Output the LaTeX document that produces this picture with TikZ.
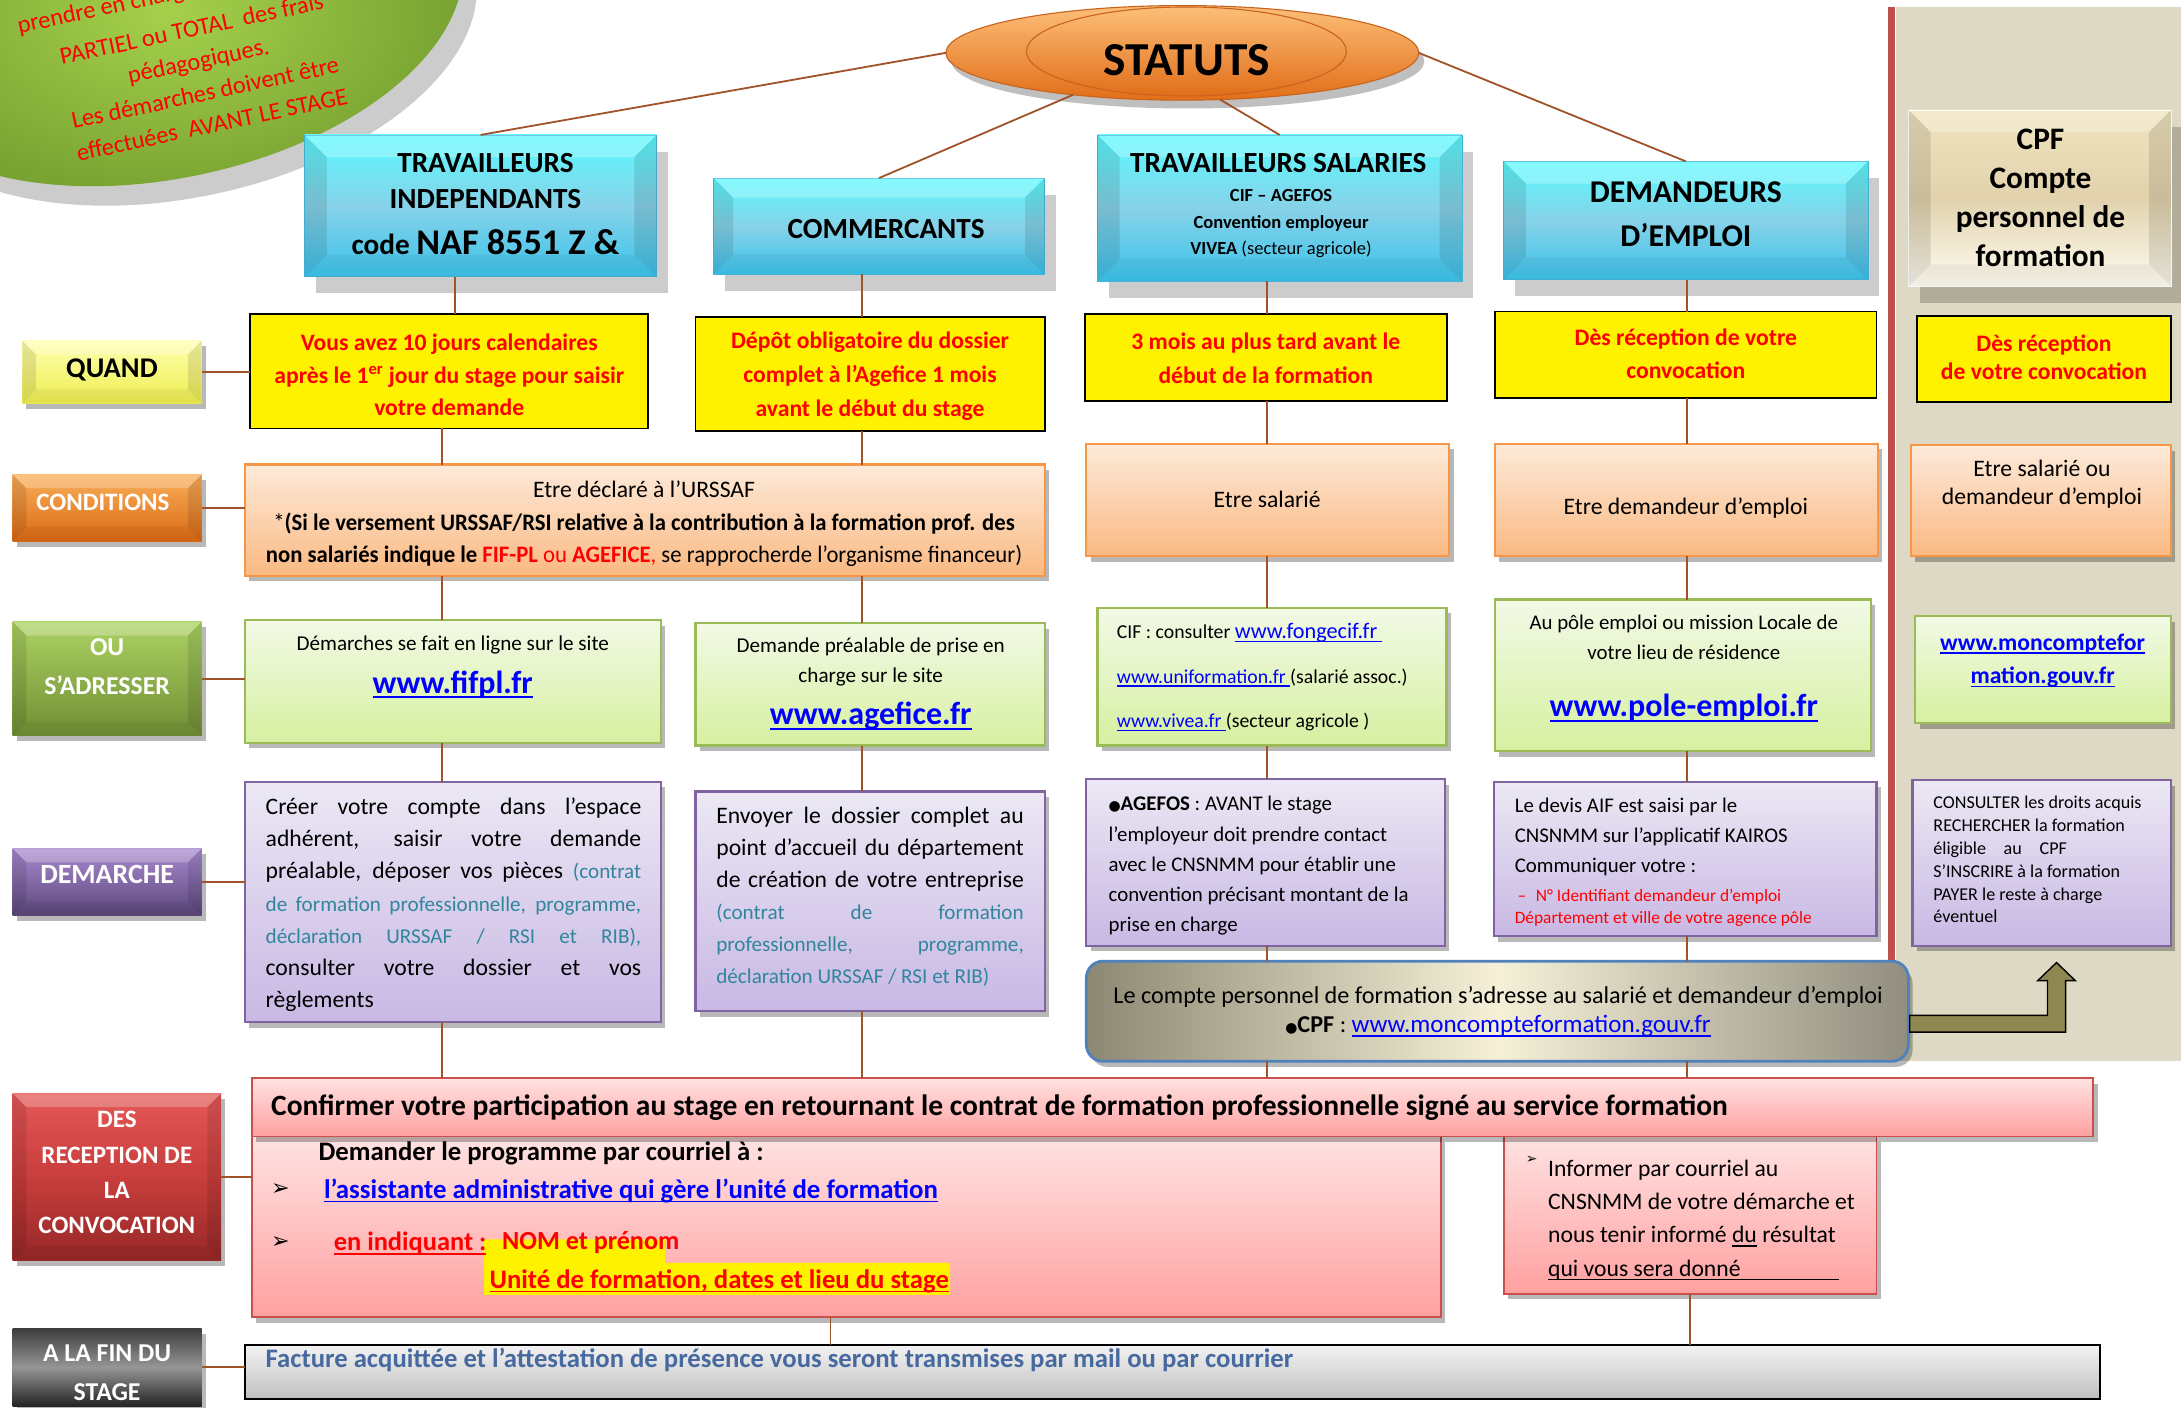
\documentclass[tikz,border=0pt]{standalone}
\usepackage{fontspec}
\setmainfont{Carlito}
\newfontfamily\narrowfont{Carlito}[FakeStretch=0.96]
\newfontfamily\djv{DejaVu Sans}
\usetikzlibrary{shadows,shapes.geometric,calc}
\definecolor{linec}{RGB}{160,82,40}
\definecolor{cyT}{RGB}{90,250,255}
\definecolor{cyM}{RGB}{135,210,232}
\definecolor{cyB}{RGB}{60,195,235}
\definecolor{cyD}{RGB}{70,180,215}
\definecolor{crT}{RGB}{240,228,190}
\definecolor{crM}{RGB}{225,210,172}
\definecolor{crB}{RGB}{255,252,242}
\definecolor{pcT}{RGB}{253,234,218}
\definecolor{pcB}{RGB}{250,185,130}
\definecolor{pcD}{RGB}{247,150,70}
\definecolor{gnT}{RGB}{242,249,230}
\definecolor{gnB}{RGB}{214,240,160}
\definecolor{gnD}{RGB}{155,187,89}
\definecolor{lvT}{RGB}{236,232,244}
\definecolor{lvB}{RGB}{200,184,228}
\definecolor{lvD}{RGB}{128,100,162}
\definecolor{pkT}{RGB}{255,226,226}
\definecolor{pkB}{RGB}{255,160,160}
\definecolor{pkD}{RGB}{200,80,77}
\definecolor{gyT}{RGB}{242,242,242}
\definecolor{gyB}{RGB}{192,192,192}
\definecolor{beige}{RGB}{221,217,196}
\definecolor{redl}{RGB}{192,80,77}
\definecolor{blIn}{RGB}{165,208,75}
\definecolor{blOut}{RGB}{118,160,48}
\definecolor{orT}{RGB}{252,190,120}
\definecolor{orB}{RGB}{225,110,25}
\definecolor{orD}{RGB}{200,100,30}
\definecolor{linkb}{RGB}{0,0,255}
\definecolor{teal2}{RGB}{49,133,156}
\definecolor{factc}{RGB}{70,105,160}
\definecolor{cbL}{RGB}{140,136,115}
\definecolor{cbM}{RGB}{245,240,215}
\definecolor{cbR}{RGB}{145,142,128}
\definecolor{cbD}{RGB}{79,129,189}
\definecolor{arrf}{RGB}{143,135,80}
\definecolor{qT}{RGB}{255,255,175}
\definecolor{qB}{RGB}{238,238,80}
\definecolor{cT}{RGB}{250,175,90}
\definecolor{cB}{RGB}{218,105,20}
\definecolor{oT}{RGB}{172,210,98}
\definecolor{oB}{RGB}{112,142,52}
\definecolor{dT}{RGB}{168,138,208}
\definecolor{dB}{RGB}{92,70,122}
\definecolor{rT}{RGB}{228,88,88}
\definecolor{rM}{RGB}{200,62,60}
\definecolor{rB}{RGB}{150,40,40}
\definecolor{fT}{RGB}{60,60,60}
\definecolor{fM}{RGB}{150,150,150}
\definecolor{fB}{RGB}{35,35,35}
\newcommand\fs[2]{\fontsize{#1}{#2}\selectfont}
\newsavebox\ulbox
\newcommand\ulk[1]{\sbox\ulbox{#1}\leavevmode\rlap{\rule[-0.16em]{\wd\ulbox}{0.065em}}\usebox\ulbox}
\newcommand\bx[6]{\node[#6,anchor=north west,minimum width={(#4)-(#2)},minimum height={(#5)-(#3)},inner sep=0pt,outer sep=0pt] (#1) at (#2,#3) {};}
\newcommand\bevel[2]{%
 \fill[white,opacity=.25] (#1.north west) -- (#1.north east) -- ($(#1.north east)+(-#2,#2)$) -- ($(#1.north west)+(#2,#2)$) -- cycle;
 \fill[black,opacity=.10] (#1.north west) -- ($(#1.north west)+(#2,#2)$) -- ($(#1.south west)+(#2,-#2)$) -- (#1.south west) -- cycle;
 \fill[black,opacity=.10] (#1.north east) -- ($(#1.north east)+(-#2,#2)$) -- ($(#1.south east)+(-#2,-#2)$) -- (#1.south east) -- cycle;
 \fill[black,opacity=.05] (#1.south west) -- ($(#1.south west)+(#2,-#2)$) -- ($(#1.south east)+(-#2,-#2)$) -- (#1.south east) -- cycle;}
\begin{document}
\begin{tikzpicture}[x=1pt,y=-1pt,
 every node/.style={inner sep=0pt,outer sep=0pt},
 conn/.style={draw=linec,line width=1.3pt},
 shd/.style={drop shadow={shadow xshift=3pt,shadow yshift=-4pt,opacity=.28,fill=black}},
 bigsh/.style={drop shadow={shadow xshift=8pt,shadow yshift=-12pt,opacity=.2,fill=black}},
 hdr/.style={rectangle,top color=cyT,bottom color=cyB,middle color=cyM,draw=cyD,line width=.5pt,bigsh},
 cpfhdr/.style={rectangle,top color=crT,bottom color=crB,middle color=crM,draw=white,line width=.5pt,bigsh},
 yel/.style={rectangle,fill=yellow,draw=black,line width=1.3pt},
 pch/.style={rectangle,top color=pcT,bottom color=pcB,draw=pcD,line width=1.6pt,shd},
 grn/.style={rectangle,top color=gnT,bottom color=gnB,draw=gnD,line width=1.6pt,shd},
 lav/.style={rectangle,top color=lvT,bottom color=lvB,draw=lvD,line width=1.6pt,shd},
 pnk/.style={rectangle,top color=pkT,bottom color=pkB,draw=pkD,line width=1.3pt,shd},
 gry/.style={rectangle,top color=gyT,bottom color=gyB,draw=black,line width=1.6pt},
 cbar/.style={rectangle,rounded corners=12pt,left color=cbL,right color=cbR,middle color=cbM,draw=cbD,line width=2pt,shd},
 lblq/.style={rectangle,top color=qT,bottom color=qB,shd},
 lblc/.style={rectangle,top color=cT,bottom color=cB,shd},
 lblo/.style={rectangle,top color=oT,bottom color=oB,shd},
 lbld/.style={rectangle,top color=dT,bottom color=dB,shd},
 lblr/.style={rectangle,top color=rT,bottom color=rB,middle color=rM,shd},
 lblf/.style={rectangle,top color=fT,bottom color=fB,middle color=fM,shd},
 hdrt/.style={align=center,font=\bfseries\fs{21}{26}},
 ytxt/.style={align=center,text=red,font=\bfseries\fs{17}{24}},
 lblt/.style={align=center,text=white,font=\bfseries\fs{18.5}{28}}]
\useasboundingbox (0,0) rectangle (1568,1012);
\clip (0,0) rectangle (1568,1012);

% CPF panel
\fill[beige] (1363,5) rectangle (1568,763);
\draw[redl,line width=5pt] (1360,5) -- (1360,760);

% green blob
\node[ellipse,minimum width=432,minimum height=236,rotate=12,fill=black,opacity=.2] (blobsh) at (130,24) {};
\node[ellipse,minimum width=432,minimum height=236,rotate=12,inner color=blIn,outer color=blOut] (blob) at (120,10) {};
\node[rotate=12,anchor=base west,text=red,font=\fs{17.5}{23.5}] (blobt1) at (14,24) {prendre en charge le};
\node[rotate=12,align=center,text=red,font=\fs{17.5}{23.5}] (blobt2) at (145,55) {PARTIEL ou TOTAL\ \ des frais\\pédagogiques.\\Les démarches doivent être\\effectuées\ \ AVANT LE STAGE};

% STATUTS
\node[ellipse,minimum width=340,minimum height=68,top color=orT,bottom color=orB,draw=orD,line width=.8pt,drop shadow={shadow xshift=4pt,shadow yshift=-6pt,opacity=.25,fill=black}] (stat) at (850,38) {};
\node[ellipse,minimum width=230,minimum height=64,top color=orT,bottom color=orB,draw=orD,line width=.8pt] (stat2) at (853,37) {};
\node[font=\bfseries\fs{34}{34}] (statt) at (853,43) {STATUTS};

% headers
\bx{tih}{219}{97}{472}{199}{hdr}\bevel{tih}{16}
\node[hdrt] (tiht) at (349,130) {TRAVAILLEURS\\INDEPENDANTS};
\node[font=\bfseries] (tiht2) at (349,174) {\fs{21}{26}code \fs{26}{30}NAF 8551 Z \&};
\bx{comh}{513}{128}{751}{197}{hdr}\bevel{comh}{14}
\node[hdrt] (comht) at (637,165) {COMMERCANTS};
\bx{tsh}{789}{97}{1051}{202}{hdr}\bevel{tsh}{16}
\node[hdrt] (tsht) at (919,117) {TRAVAILLEURS SALARIES};
\node[align=center,font=\fs{13.3}{19}] (tsht2) at (921,161) {\textbf{CIF – AGEFOS}\\\textbf{Convention employeur}\\\textbf{VIVEA} (secteur agricole)};
\bx{deh}{1081}{116}{1343}{201}{hdr}\bevel{deh}{16}
\node[align=center,font=\bfseries\fs{22.8}{32}] (deht) at (1212,154) {DEMANDEURS\\D’EMPLOI};
\bx{cpfh}{1372}{79}{1561}{206}{cpfhdr}\bevel{cpfh}{16}
\node[align=center,font=\bfseries\fs{22.5}{28}] (cpfht) at (1467,142) {CPF\\Compte\\personnel de\\formation};

% row labels
\bx{quand}{16}{245}{145}{290}{lblq}\bevel{quand}{10}
\node[font=\bfseries\fs{20.5}{24}] (quandt) at (80.5,266) {QUAND};
\bx{condl}{9}{341}{145}{389}{lblc}\bevel{condl}{10}
\node[lblt,font=\bfseries\fs{18}{22}] (condlt) at (74,361) {CONDITIONS};
\bx{oul}{9}{447}{145}{529}{lblo}\bevel{oul}{10}
\node[lblt] (oult) at (77,479) {OU\\S’ADRESSER};
\bx{deml}{9}{610}{145}{658}{lbld}\bevel{deml}{10}
\node[lblt,font=\bfseries\fs{20}{24}] (demlt) at (77,629) {DEMARCHE};
\bx{recl}{9}{786}{159}{906}{lblr}\bevel{recl}{10}
\node[lblt,font=\bfseries\fs{18}{25.3}] (reclt) at (84,843) {DES\\RECEPTION DE\\LA\\CONVOCATION};
\bx{finl}{9}{955}{145}{1011}{lblf}
\node[lblt] (finlt) at (77,987) {A LA FIN DU\\STAGE};

% QUAND row
\bx{tiq}{180}{226}{466}{308}{yel}
\node[ytxt,font=\bfseries\fs{17}{23.5}] (tiqt) at (323,269.5) {Vous avez 10 jours calendaires\\après le 1\textsuperscript{er} jour du stage pour saisir\\votre demande};
\bx{comq}{500}{228}{751}{310}{yel}
\node[ytxt,font=\bfseries\fs{17}{24.5}] (comqt) at (625.5,270.5) {Dépôt obligatoire du dossier\\complet à l’Agefice 1 mois\\avant le début du stage};
\bx{tsq}{780}{226}{1040}{288}{yel}
\node[ytxt] (tsqt) at (910,257.5) {3 mois au plus tard avant le\\début de la formation};
\bx{deq}{1075}{224}{1349}{286}{yel}
\node[ytxt] (deqt) at (1212,254.5) {Dès réception de votre\\convocation};
\bx{cpfq}{1378}{227}{1561}{289}{yel}
\node[ytxt,font=\bfseries\fs{17}{20.5}] (cpfqt) at (1469.5,257) {Dès réception\\de votre convocation};

% CONDITIONS row
\bx{cond}{176}{334}{751}{414}{pch}
\node[align=center,font=\fs{17}{23.5}] (condt) at (463,376.5) {Etre déclaré à l’URSSAF\\{\narrowfont *\bfseries(Si le versement URSSAF/RSI relative à la contribution à la formation prof. des}\\{\narrowfont\textbf{non salariés indique le }\textcolor{red}{\textbf{FIF-PL} ou \textbf{AGEFICE},} se rapprocherde l’organisme financeur)}};
\bx{tscond}{781}{319}{1042}{400}{pch}
\node[font=\fs{17}{20}] (tscondt) at (911,359) {Etre salarié};
\bx{decond}{1075}{319}{1350}{400}{pch}
\node[font=\fs{17}{20}] (decondt) at (1212,365) {Etre demandeur d’emploi};
\bx{cpfcond}{1374}{320}{1561}{400}{pch}
\node[align=center,font=\fs{17}{20.5}] (cpfcondt) at (1468,348) {Etre salarié ou\\demandeur d’emploi};

% OU S'ADRESSER row
\bx{tiou}{176}{446}{475}{534}{grn}
\node[font=\fs{15.2}{20}] (tiout) at (325.5,464) {Démarches se fait en ligne sur le site};
\node[font=\bfseries\fs{23}{26},text=linkb] (tiouu) at (325.5,492) {\ulk{www.fifpl.fr}};
\bx{comou}{500}{448}{751}{536}{grn}
\node[align=center,font=\fs{15.2}{22}] (comout) at (626,476) {Demande préalable de prise en\\charge sur le site};
\node[font=\bfseries\fs{23}{26},text=linkb] (comouu) at (626,515) {\ulk{www.agefice.fr}};
\bx{tsou}{789}{437}{1040}{536}{grn}
\node[anchor=west,align=left,font=\fs{14.2}{32}] (tsout) at (803,487) {CIF : consulter {\color{linkb}\fs{16}{32}\ulk{www.fongecif.fr }}\\{\color{linkb}\ulk{www.uniformation.fr }}(salarié assoc.)\\{\color{linkb}\ulk{www.vivea.fr }}(secteur agricole )};
\bx{deou}{1075}{431}{1345}{540}{grn}
\node[align=center,font=\fs{15}{21.5}] (deout) at (1210.5,458.5) {Au pôle emploi ou mission Locale de\\votre lieu de résidence};
\node[font=\bfseries\fs{23}{26},text=linkb] (deouu) at (1210.5,509) {\ulk{www.pole-emploi.fr}};
\bx{cpfou}{1377}{443}{1561}{520}{grn}
\node[align=center,font=\bfseries\fs{17}{24},text=linkb] (cpfout) at (1468.5,475) {\ulk{www.moncomptefor}\\\ulk{mation.gouv.fr}};

% DEMARCHE row
\bx{tidem}{176}{562}{475}{735}{lav}
\node[align=left,font=\fs{17}{23.2}] (tidemt) at (326,650.5) {%
\makebox[270pt][s]{Créer votre compte dans l’espace}\\%
\makebox[270pt][s]{adhérent, saisir votre demande}\\%
\makebox[270pt][s]{préalable, déposer vos pièces {\color{teal2}\fs{15.2}{23.2}(contrat}}\\%
\makebox[270pt][s]{\color{teal2}\fs{15.2}{23.2}de formation professionnelle, programme,}\\%
\makebox[270pt][s]{\color{teal2}\fs{15.2}{23.2}déclaration URSSAF / RSI et RIB),}\\%
\makebox[270pt][s]{consulter votre dossier et vos}\\%
règlements};
\bx{comdem}{500}{569}{751}{727}{lav}
\node[align=left,font=\fs{17}{23}] (comdemt) at (625.5,645) {%
\makebox[221pt][s]{Envoyer le dossier complet au}\\%
\makebox[221pt][s]{point d’accueil du département}\\%
\makebox[221pt][s]{de création de votre entreprise}\\%
\makebox[221pt][s]{\color{teal2}\fs{15.2}{23}(contrat de formation}\\%
\makebox[221pt][s]{\color{teal2}\fs{15.2}{23}professionnelle, programme,}\\%
{\color{teal2}\fs{15.2}{23}déclaration URSSAF / RSI et RIB)}};
\bx{tsdem}{781}{560}{1039}{680}{lav}
\node[anchor=west,align=left,font=\fs{15}{21.75}] (tsdemt) at (797,622.5) {{\djv\fs{10}{21.75}●}\textbf{AGEFOS} : AVANT le stage\\l’employeur doit prendre contact\\avec le CNSNMM pour établir une\\convention précisant montant de la\\prise en charge};
\bx{dedem}{1074}{562}{1349}{673}{lav}
\node[anchor=west,align=left,font=\fs{15}{21.5}] (dedemt) at (1089,601.5) {Le devis AIF est saisi par le\\CNSNMM sur l’applicatif KAIROS\\Communiquer votre :};
\node[anchor=west,align=left,text=red,font=\fs{12.5}{15.5}] (dedemt2) at (1089,652.5) {\hspace{2pt}–\hspace{7pt}N° Identifiant demandeur d’emploi\\Département et ville de votre agence pôle};
\bx{cpfdem}{1375}{561}{1561}{680}{lav}
\node[anchor=west,align=left,font=\fs{13}{16.4}] (cpfdemt) at (1390,618) {CONSULTER les droits acquis\\RECHERCHER la formation\\\makebox[96pt][s]{éligible au CPF}\\S’INSCRIRE à la formation\\PAYER le reste à charge\\éventuel};

% CPF bar and arrow
\bx{cpfbar}{781}{691}{1372}{763}{cbar}
\node[align=center,font=\fs{17.4}{21}] (cpfbart) at (1077,727.5) {Le compte personnel de formation s’adresse au salarié et demandeur d’emploi\\{\djv\fs{10}{21}●}\textbf{CPF} : {\color{linkb}\fs{18}{21}\ulk{www.moncompteformation.gouv.fr}}};
\filldraw[fill=arrf,draw=black,line width=1pt] (1373,730) -- (1472,730) -- (1472,705) -- (1465,705) -- (1478.5,692) -- (1492,705) -- (1485,705) -- (1485,742) -- (1373,742) -- cycle;

% confirmation area
\bx{lpink}{181}{817}{1036}{947}{pnk}
\bx{rpink}{1081}{817}{1349}{930}{pnk}
\bx{conf}{181}{775}{1505}{817}{pnk}
\node[anchor=west,font=\bfseries\fs{21.2}{24}] (conft) at (195,796) {Confirmer votre participation au stage en retournant le contrat de formation professionnelle signé au service formation};
\node[anchor=west,font=\bfseries\fs{19.2}{22}] (lpt1) at (229,829) {Demander le programme par courriel à :};
\node[anchor=west,font=\djv\fs{16}{18}] (lpa1) at (195,855) {➢};
\node[anchor=west,font=\bfseries\fs{19.3}{22},text=linkb] (lpt2) at (233,856) {\ulk{l’assistante administrative qui gère l’unité de formation}};
\fill[yellow] (348,891) -- (478,891) -- (478,908) -- (683,908) -- (683,931) -- (348,931) -- cycle;
\node[anchor=west,font=\djv\fs{16}{18}] (lpa2) at (195,893) {➢};
\node[anchor=west,font=\bfseries\fs{19}{22},text=red] (lpt3) at (240,894) {\ulk{en indiquant :}};
\node[anchor=west,font=\bfseries\fs{18.8}{22},text=red] (lpt4) at (361,893) {NOM et prénom};
\node[anchor=west,font=\bfseries\fs{19.2}{22},text=red] (lpt5) at (352,921) {\ulk{Unité de formation, dates et lieu du stage}};
\node[anchor=west,font=\djv\fs{10}{12}] (rpa) at (1097,834) {➢};
\node[anchor=west,align=left,font=\fs{17}{24}] (rpt) at (1113,877) {Informer par courriel au\\CNSNMM de votre démarche et\\nous tenir informé \ulk{du} résultat\\\ulk{qui vous sera donné\hspace{71pt}}};

% bottom bar
\bx{bot}{176}{967}{1510}{1006}{gry}
\node[anchor=west,font=\bfseries\fs{19.2}{22},text=factc] (bott) at (191,978) {Facture acquittée et l’attestation de présence vous seront transmises par mail ou par courrier};

% connectors from STATUTS
\draw[conn] (stat.west) -- (tih.north);
\draw[conn] (stat.201) -- (comh.north);
\draw[conn] (stat.309) -- (tsh.north);
\draw[conn] (stat.east) -- (deh.north);

% column connectors
\coordinate (k1t) at (327,0);
\coordinate (k1) at (318,0);
\coordinate (k2) at (620,0);
\coordinate (k3) at (911,0);
\coordinate (k4) at (1213,0);
\draw[conn] (k1t |- tih.south) -- (k1t |- tiq.north);
\draw[conn] (k1 |- tiq.south) -- (k1 |- cond.north);
\draw[conn] (k1 |- cond.south) -- (k1 |- tiou.north);
\draw[conn] (k1 |- tiou.south) -- (k1 |- tidem.north);
\draw[conn] (k1 |- tidem.south) -- (k1 |- conf.north);
\draw[conn] (k2 |- comh.south) -- (k2 |- comq.north);
\draw[conn] (k2 |- comq.south) -- (k2 |- cond.north);
\draw[conn] (k2 |- cond.south) -- (k2 |- comou.north);
\draw[conn] (k2 |- comou.south) -- (k2 |- comdem.north);
\draw[conn] (k2 |- comdem.south) -- (k2 |- conf.north);
\draw[conn] (k3 |- tsh.south) -- (k3 |- tsq.north);
\draw[conn] (k3 |- tsq.south) -- (k3 |- tscond.north);
\draw[conn] (k3 |- tscond.south) -- (k3 |- tsou.north);
\draw[conn] (k3 |- tsou.south) -- (k3 |- tsdem.north);
\draw[conn] (k3 |- tsdem.south) -- (k3 |- cpfbar.north);
\draw[conn] (k3 |- cpfbar.south) -- (k3 |- conf.north);
\draw[conn] (k4 |- deh.south) -- (k4 |- deq.north);
\draw[conn] (k4 |- deq.south) -- (k4 |- decond.north);
\draw[conn] (k4 |- decond.south) -- (k4 |- deou.north);
\draw[conn] (k4 |- deou.south) -- (k4 |- dedem.north);
\draw[conn] (k4 |- dedem.south) -- (k4 |- cpfbar.north);
\draw[conn] (k4 |- cpfbar.south) -- (k4 |- conf.north);
\coordinate (k5) at (597,0);
\coordinate (k6) at (1215,0);
\draw[conn] (k5 |- lpink.south) -- (k5 |- bot.north);
\draw[conn] (k6 |- rpink.south) -- (k6 |- bot.north);

% label connectors
\draw[conn] (quand.east) -- (quand.east -| tiq.west);
\draw[conn] (condl.east) -- (condl.east -| cond.west);
\draw[conn] (oul.east) -- (oul.east -| tiou.west);
\draw[conn] (deml.east) -- (deml.east -| tidem.west);
\draw[conn] (recl.east) -- (recl.east -| lpink.west);
\draw[conn] (finl.east) -- (finl.east -| bot.west);
\end{tikzpicture}
\end{document}
